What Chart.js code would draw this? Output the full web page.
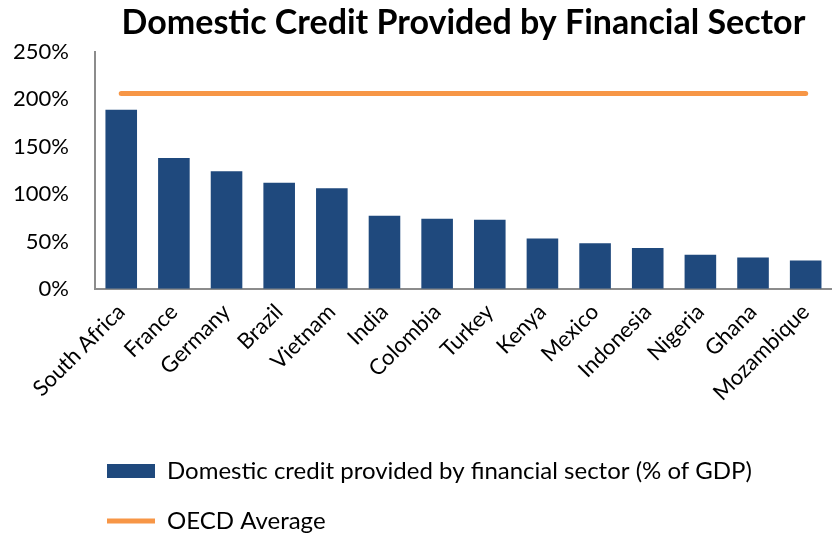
<!DOCTYPE html>
<html>
<head>
<meta charset="utf-8">
<script src="https://cdn.jsdelivr.net/npm/chart.js@4"></script>
<style>
  html, body { margin: 0; padding: 0; background: #fff; }
  #wrap { width: 832px; height: 533px; position: relative; }
</style>
</head>
<body>
<div id="wrap"><canvas id="creditChart"></canvas></div>
<script>
// values (% of GDP)
var countries = ['South Africa', 'France', 'Germany', 'Brazil', 'Vietnam', 'India', 'Colombia',
  'Turkey', 'Kenya', 'Mexico', 'Indonesia', 'Nigeria', 'Ghana', 'Mozambique'];
var domesticCredit = [189, 138, 124, 112, 106, 77, 74, 73, 53, 48, 43, 36, 33, 30];
var oecdAverage = [206, 206, 206, 206, 206, 206, 206, 206, 206, 206, 206, 206, 206, 206];
var yTicks = [0, 50, 100, 150, 200, 250];

Chart.defaults.font.family = 'Lato, "Open Sans", sans-serif';
Chart.defaults.color = '#000';

// push the legend over and down a bit, like the original
var legendNudge = {
  id: 'legendNudge',
  afterLayout: function(chart) {
    var lg = chart.legend;
    lg.left += 86;
    lg.right += 86;
    lg.top += 25;
    lg.bottom += 25;
  }
};

var ctx = document.getElementById('creditChart');
new Chart(ctx, {
  type: 'bar',
  data: {
    labels: countries,
    datasets: [{
      label: 'Domestic credit provided by financial sector (% of GDP)',
      data: domesticCredit,
      backgroundColor: '#1F497D',
      borderWidth: 0,
      barPercentage: 0.6,
      categoryPercentage: 1.0,
      pointStyle: 'rect',
      order: 2
    }, {
      type: 'line',
      label: 'OECD Average',
      data: oecdAverage,
      borderColor: '#F79646',
      backgroundColor: '#F79646',
      borderWidth: 5,
      borderCapStyle: 'round',
      pointRadius: 0,
      pointStyle: 'line',
      fill: false,
      order: 1
    }]
  },
  options: {
    responsive: true,
    maintainAspectRatio: false,
    animation: false,
    layout: { padding: { left: -5, right: 0, top: 0, bottom: 15 } },
    plugins: {
      title: {
        display: true,
        text: 'Domestic Credit Provided by Financial Sector',
        fullSize: false,
        font: { size: 34, weight: 'bold' },
        color: '#000',
        padding: { top: 3, bottom: 8 }
      },
      legend: {
        position: 'bottom',
        align: 'start',
        labels: {
          usePointStyle: true,
          pointStyleWidth: 48,
          boxHeight: 14,
          padding: 26,
          font: { size: 24 },
          color: '#000',
          sort: function(a, b) { return a.datasetIndex - b.datasetIndex; }
        }
      },
      tooltip: { enabled: false }
    },
    scales: {
      x: {
        grid: { display: false },
        border: { display: true, color: '#8c8c8c', width: 2 },
        ticks: {
          autoSkip: false,
          maxRotation: 45,
          minRotation: 45,
          padding: 2,
          font: { size: 22 },
          color: '#000'
        }
      },
      y: {
        min: 0,
        max: 250,
        grid: { display: false },
        border: { display: true, color: '#8c8c8c', width: 2 },
        afterBuildTicks: function(axis) {
          axis.ticks = yTicks.map(function(v) { return { value: v }; });
        },
        ticks: {
          padding: 18,
          font: { size: 22 },
          color: '#000',
          callback: function(v) { return v + '%'; }
        }
      }
    }
  },
  plugins: [legendNudge]
});
</script>
</body>
</html>
